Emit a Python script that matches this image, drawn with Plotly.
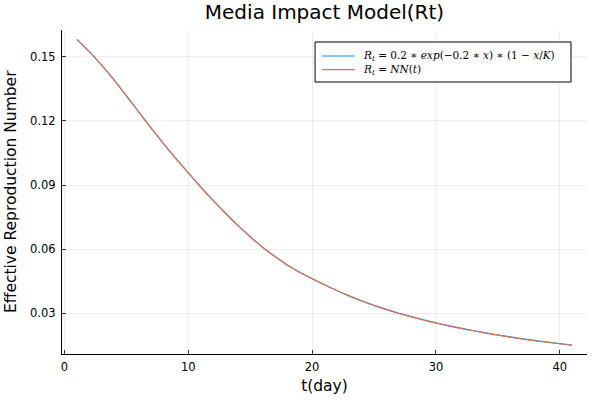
import plotly.graph_objects as go

# days
t_day = list(range(1, 42))

# R_t (model)
rt_model = [0.1582, 0.1525, 0.1462, 0.1393, 0.1318, 0.1242, 0.1167, 0.1094, 0.1024, 0.0957,
            0.0891, 0.0828, 0.0768, 0.0711, 0.0658, 0.0609, 0.0565, 0.0526, 0.0492, 0.0462,
            0.0433, 0.0406, 0.0381, 0.0358, 0.0337, 0.0318, 0.0300, 0.0284, 0.0269, 0.0255,
            0.0242, 0.0230, 0.0219, 0.0208, 0.0198, 0.0189, 0.0180, 0.0172, 0.0165, 0.0158,
            0.0151]

# R_t from the neural network (almost on top of the model)
rt_nn = [0.1582, 0.1525, 0.1462, 0.1393, 0.1318, 0.1242, 0.1167, 0.1094, 0.1024, 0.0957,
         0.0891, 0.0828, 0.0768, 0.0711, 0.0658, 0.0609, 0.0565, 0.0526, 0.0492, 0.0462,
         0.0433, 0.0406, 0.0380, 0.0357, 0.0336, 0.0317, 0.0299, 0.0283, 0.0268, 0.0254,
         0.0241, 0.0229, 0.0218, 0.0207, 0.0197, 0.0188, 0.0179, 0.0171, 0.0164, 0.0157,
         0.0150]

x_ticks = [0, 10, 20, 30, 40]
y_ticks = [0.03, 0.06, 0.09, 0.12, 0.15]
y_tick_text = ["0.03", "0.06", "0.09", "0.12", "0.15"]

colors = ["#009AFA", "#E26F46"]
labels = [
    "<i>R<sub>t</sub></i> = 0.2 ∗ <i>exp</i>(−0.2 ∗ <i>x</i>) ∗ (1 − <i>x</i>/<i>K</i>)",
    "<i>R<sub>t</sub></i> = <i>NN</i>(<i>t</i>)",
]

fig = go.Figure()
fig.add_trace(go.Scatter(x=t_day, y=rt_model, mode="lines", name="model",
                         line=dict(color=colors[0], width=1.2, shape="spline", smoothing=0.6)))
fig.add_trace(go.Scatter(x=t_day, y=rt_nn, mode="lines", name="NN",
                         line=dict(color=colors[1], width=1.2, shape="spline", smoothing=0.6)))

axis_common = dict(
    showline=True, linecolor="black", linewidth=1,
    ticks="inside", ticklen=4, tickcolor="#333333",
    showgrid=True, gridcolor="rgba(0,0,0,0.07)", gridwidth=1,
    zeroline=False, mirror=False, automargin=False,
    tickfont=dict(family="DejaVu Sans", size=11.5, color="black"),
)

# legend box drawn by hand (plotly's own legend rows are too tall)
line_y = [0.9198, 0.8778]
shapes = [dict(type="rect", xref="paper", yref="paper", x0=0.482, x1=0.9695, y0=0.8395, y1=0.963,
               line=dict(color="black", width=1), fillcolor="white", layer="above")]
for yy, col in zip(line_y, colors):
    shapes.append(dict(type="line", xref="paper", yref="paper", x0=0.4952, x1=0.558, y0=yy, y1=yy,
                       line=dict(color=col, width=1.2), layer="above"))
annotations = [
    dict(text="<br>".join(labels), xref="paper", yref="paper", x=0.569, y=0.8988,
         xanchor="left", yanchor="middle", align="left", showarrow=False,
         font=dict(family="DejaVu Serif", size=10.5, color="black")),
    # y axis title, placed closer to the edge than plotly's standoff allows
    dict(text="Effective Reproduction Number", xref="paper", yref="paper", x=-0.097, y=0.5,
         xanchor="center", yanchor="middle", textangle=-90, showarrow=False,
         font=dict(family="DejaVu Sans", size=15.5, color="black")),
]

fig.update_layout(
    width=600, height=400,
    paper_bgcolor="white", plot_bgcolor="white",
    margin=dict(l=62, r=13, t=30, b=46),
    title=dict(text="Media Impact Model(Rt)", x=0.5, xref="paper", xanchor="center",
               y=0.969, yref="container", yanchor="middle",
               font=dict(family="DejaVu Sans", size=20, color="black")),
    xaxis=dict(axis_common, range=[-0.2, 42.2], tickvals=x_ticks, ticklabelstandoff=2,
               title=dict(text="t(day)", standoff=7,
                          font=dict(family="DejaVu Sans", size=15.5, color="black"))),
    yaxis=dict(axis_common, range=[0.0109, 0.1626], tickvals=y_ticks, ticktext=y_tick_text,
               ticklabelstandoff=3),
    showlegend=False,
    shapes=shapes,
    annotations=annotations,
)

# the page body has an 8px default margin; drop it so the figure sits at 0,0
fig.write_html("out.html", config={"displayModeBar": False},
               post_script="document.body.style.margin='0';")
